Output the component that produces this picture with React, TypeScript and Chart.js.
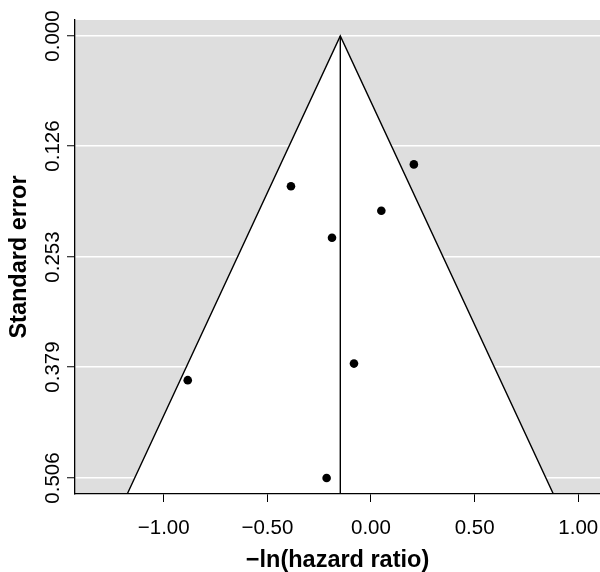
import { useEffect, useRef } from "react";
import { Chart, registerables } from "chart.js";

Chart.register(...registerables);

// Study estimates (−ln(hazard ratio)) and their standard errors
const studyEstimates = [0.207, 0.05, -0.188, -0.386, -0.082, -0.884, -0.214];
const studySE = [0.147, 0.2, 0.231, 0.172, 0.375, 0.394, 0.506];

// Summary estimate and funnel outline
const summaryEstimate = -0.148;
const funnelX = [-1.176, -0.148, 0.88];
const funnelY = [0.5243, 0, 0.5243];

// Axes
const xRange = [-1.428, 1.105];
const yRange = [-0.0183, 0.5243];
const xTicks = [-1, -0.5, 0, 0.5, 1];
const yTicks = [0, 0.126, 0.253, 0.379, 0.506];
const yTickLabels = ["0.000", "0.126", "0.253", "0.379", "0.506"];
const xTitle = "\u2212ln(hazard ratio)";
const yTitle = "Standard error";

const FONT = "'Liberation Sans', Arial, Helvetica, sans-serif";

export default function App() {
  const ref = useRef<HTMLCanvasElement | null>(null);

  useEffect(() => {
    document.body.style.margin = "0";
    const canvas = ref.current;
    if (!canvas) return;

    const bgPlugin = {
      id: "bgPlugin",
      beforeDraw(chart: any) {
        const { ctx, chartArea } = chart;
        ctx.save();
        ctx.fillStyle = "#DEDEDE";
        ctx.fillRect(
          chartArea.left,
          chartArea.top,
          chartArea.right - chartArea.left,
          chartArea.bottom - chartArea.top
        );
        ctx.restore();
      },
      afterDraw(chart: any) {
        const { ctx, chartArea } = chart;
        const yScale = chart.scales.y;
        ctx.save();
        ctx.fillStyle = "#000";
        ctx.textAlign = "center";
        ctx.textBaseline = "middle";
        ctx.font = `20.5px ${FONT}`;
        yTicks.forEach((v, i) => {
          const py = yScale.getPixelForValue(v);
          ctx.save();
          ctx.translate(53, py);
          ctx.rotate(-Math.PI / 2);
          ctx.fillText(yTickLabels[i], 0, 0);
          ctx.restore();
        });
        ctx.font = `bold 23.5px ${FONT}`;
        ctx.save();
        ctx.translate(20, (chartArea.top + chartArea.bottom) / 2);
        ctx.rotate(-Math.PI / 2);
        ctx.fillText(yTitle, 0, 0);
        ctx.restore();
        ctx.fillText(xTitle, (chartArea.left + chartArea.right) / 2, 561);
        ctx.restore();
      },
    };

    const chart = new Chart(canvas, {
      type: "scatter",
      data: {
        datasets: [
          {
            label: "Studies",
            data: studyEstimates.map((x, i) => ({ x, y: studySE[i] })),
            backgroundColor: "#000",
            borderWidth: 0,
            pointRadius: 4.3,
            showLine: false,
          },
          {
            label: "Summary",
            data: [
              { x: summaryEstimate, y: 0 },
              { x: summaryEstimate, y: yRange[1] },
            ],
            showLine: true,
            borderColor: "#000",
            borderWidth: 1.4,
            pointRadius: 0,
            fill: false,
          },
          {
            label: "Funnel",
            data: funnelX.map((x, i) => ({ x, y: funnelY[i] })),
            showLine: true,
            borderColor: "#000",
            borderWidth: 1.4,
            backgroundColor: "#FFFFFF",
            pointRadius: 0,
            fill: { value: yRange[1] },
          } as any,
        ],
      },
      options: {
        animation: false,
        responsive: false,
        events: [],
        layout: {
          autoPadding: false,
          padding: { top: 20, left: 0, right: 0, bottom: 0 },
        },
        plugins: {
          legend: { display: false },
          tooltip: { enabled: false },
        },
        scales: {
          x: {
            type: "linear",
            position: "bottom",
            min: xRange[0],
            max: xRange[1],
            grid: {
              display: true,
              drawOnChartArea: false,
              drawTicks: true,
              tickLength: 8,
              tickColor: "#000",
              tickWidth: 1,
            },
            border: { display: true, color: "#000", width: 1.3, z: 1 },
            ticks: {
              color: "#000",
              font: { family: FONT, size: 20.5 },
              padding: 14,
              autoSkip: false,
              maxRotation: 0,
              callback: (v: any) => Number(v).toFixed(2).replace("-", "\u2212"),
            },
            afterBuildTicks: (s: any) => {
              s.ticks = xTicks.map((value) => ({ value }));
            },
            afterFit: (s: any) => {
              s.height = 78;
              s.paddingLeft = 0;
              s.paddingRight = 0;
            },
          },
          y: {
            type: "linear",
            reverse: true,
            min: yRange[0],
            max: yRange[1],
            grid: {
              color: "#FFFFFF",
              lineWidth: 1.5,
              drawTicks: true,
              tickLength: 8,
              tickColor: "#000",
              tickWidth: 1,
            },
            border: { display: true, color: "#000", width: 1.3, z: 1 },
            ticks: { display: false },
            afterBuildTicks: (s: any) => {
              s.ticks = yTicks.map((value) => ({ value }));
            },
            afterFit: (s: any) => {
              s.width = 75;
              s.paddingTop = 0;
              s.paddingBottom = 0;
            },
          },
        },
      },
      plugins: [bgPlugin],
    });

    return () => chart.destroy();
  }, []);

  return (
    <div style={{ width: 600, height: 572 }}>
      <canvas ref={ref} width={600} height={572} />
    </div>
  );
}
